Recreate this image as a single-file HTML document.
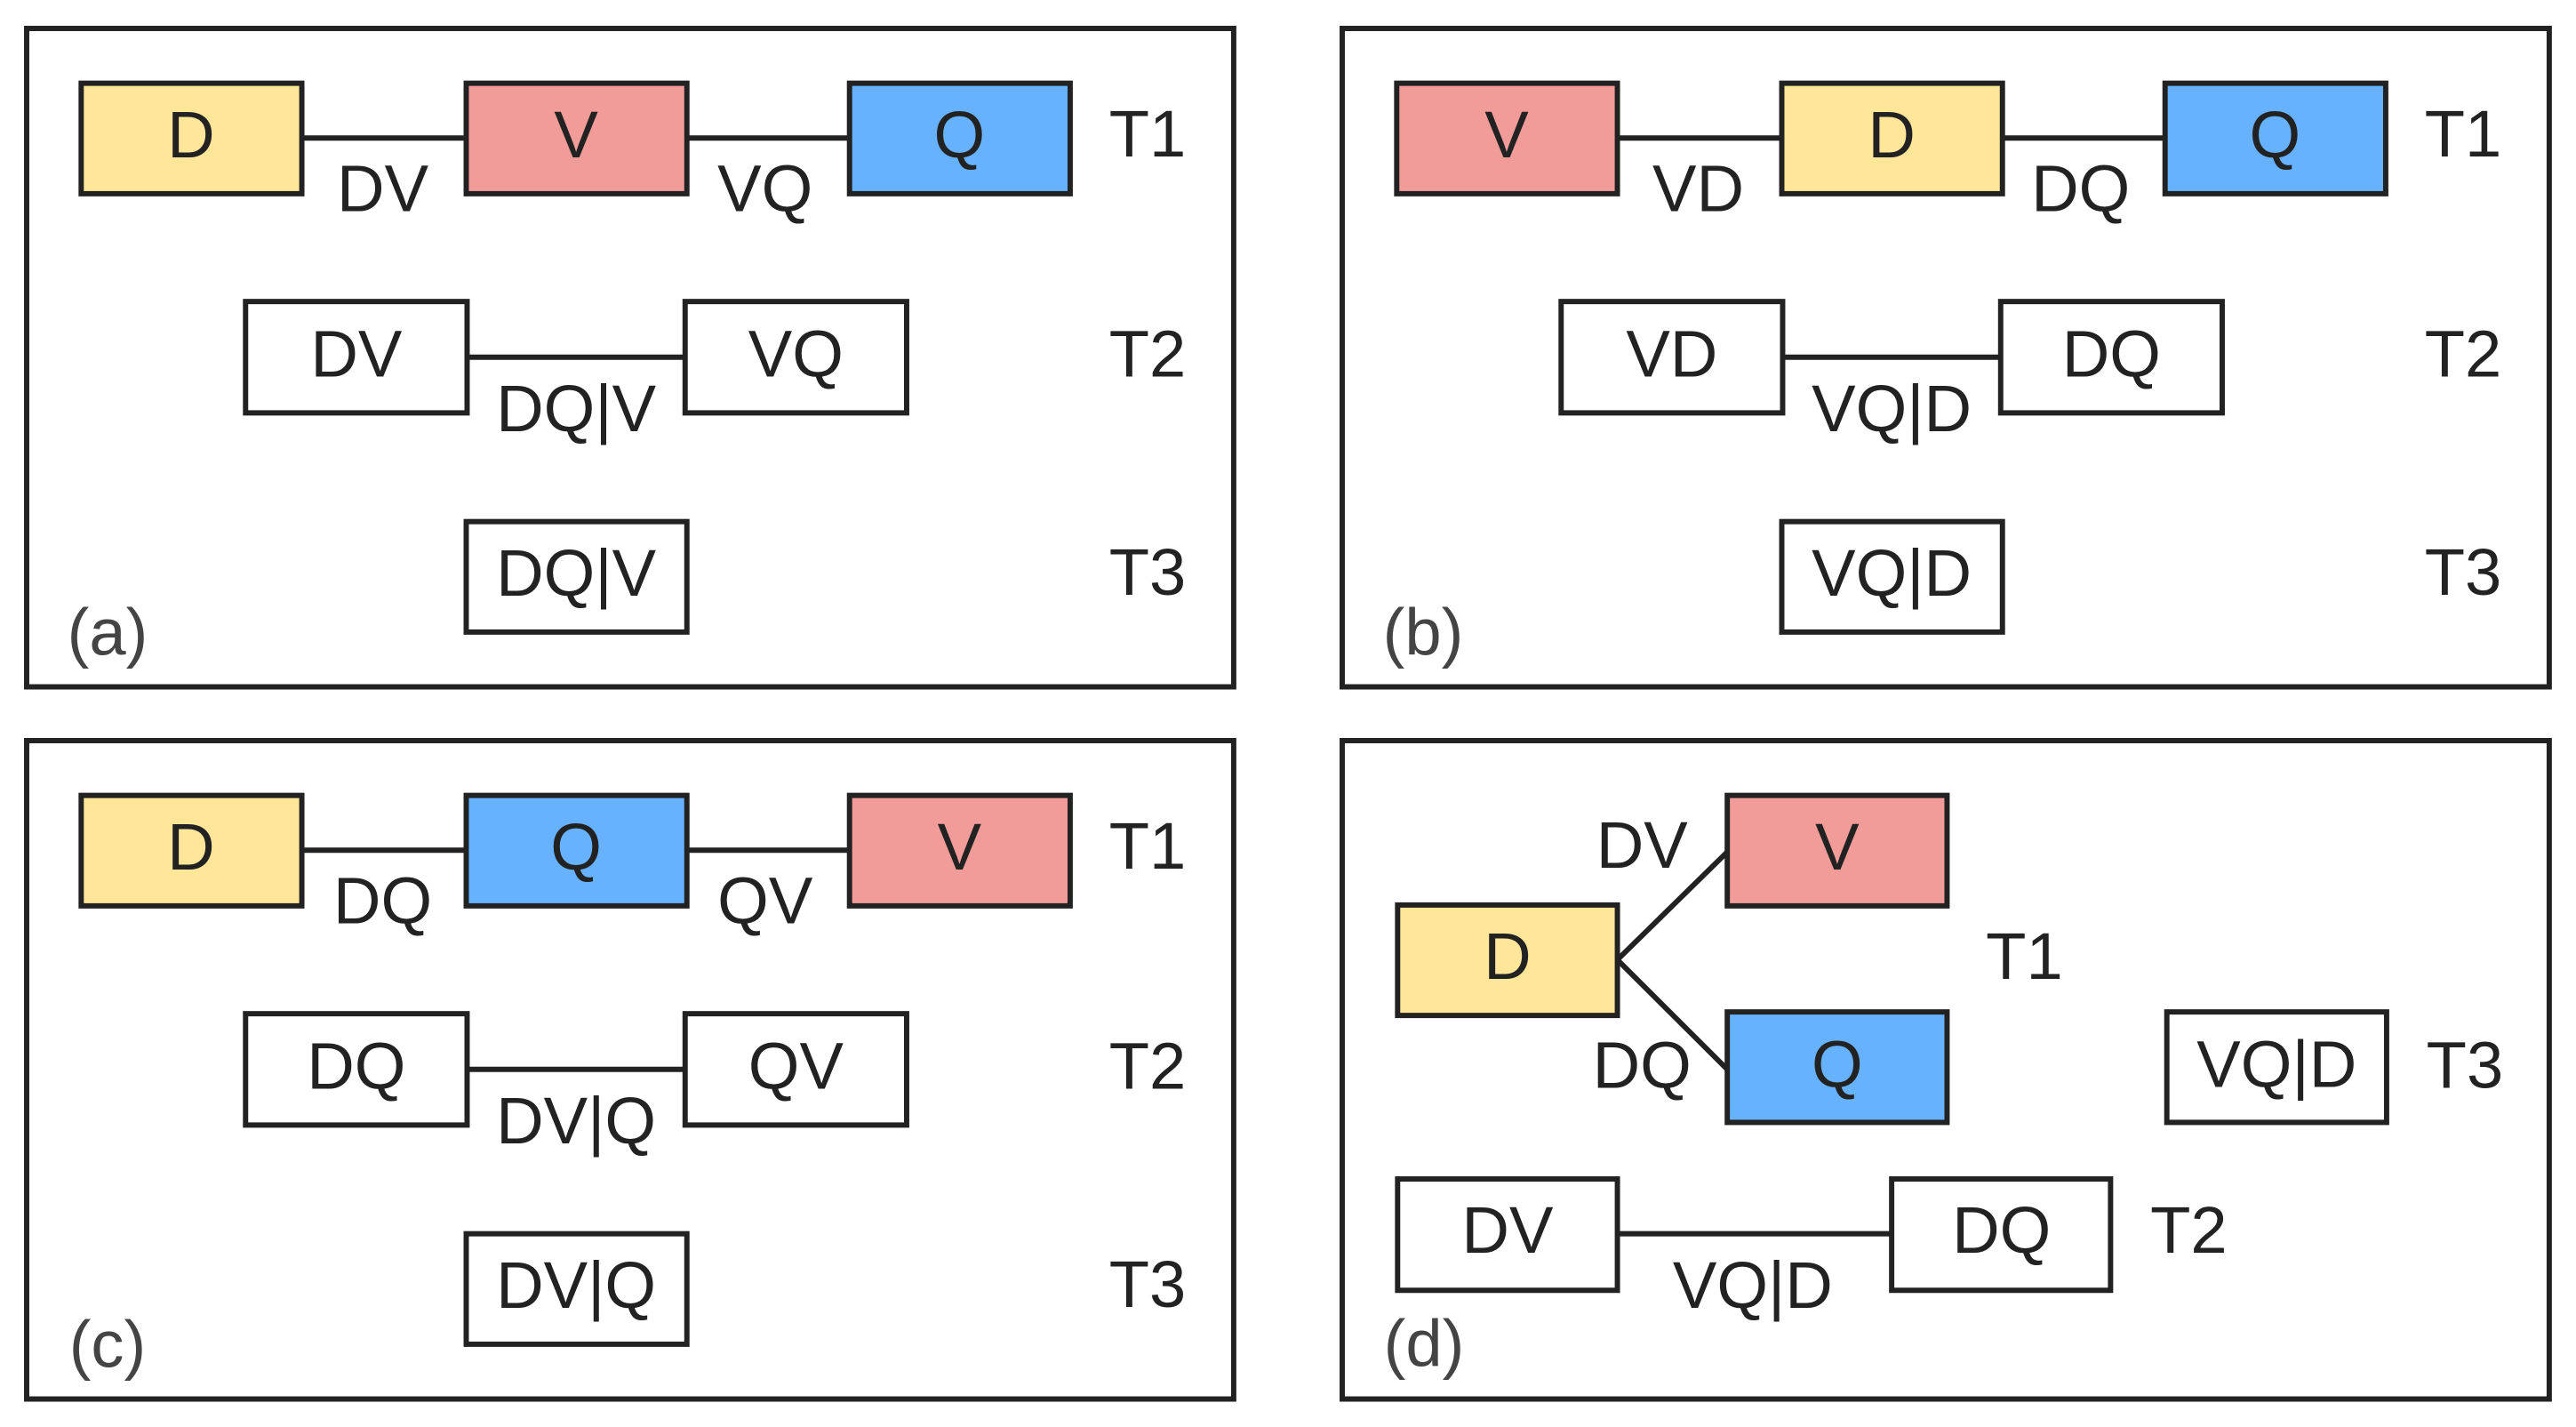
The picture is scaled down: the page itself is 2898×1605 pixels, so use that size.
<!DOCTYPE html>
<html><head><meta charset="utf-8"><style>
html,body{margin:0;padding:0;background:#fff;}
svg{display:block;}
text{font-family:"Liberation Sans",Arial,sans-serif;font-size:75px;fill:#222;text-anchor:middle;dominant-baseline:central;}
.p{fill:none;stroke:#222;stroke-width:6;}
.b{stroke:#222;stroke-width:6;}
.l{stroke:#222;stroke-width:6;fill:none;}
.lab{fill:#444;}
</style></head><body>
<svg width="2898" height="1605" viewBox="0 0 2898 1605" xmlns="http://www.w3.org/2000/svg">
<defs>
<g id="dummy"></g>
</defs>
<!-- Panel a -->
<g transform="translate(0,0)"><g transform="translate(30,32) scale(0.989,0.994) translate(-30,-32)">
<rect class="p" x="30" y="32" width="1373" height="745"/>
<line class="l" x1="343" y1="156" x2="530" y2="156"/><line class="l" x1="781" y1="156" x2="966" y2="156"/>
<rect class="b" x="92" y="94" width="251" height="125" fill="#FFE699"/><text x="217" y="152">D</text>
<rect class="b" x="530" y="94" width="251" height="125" fill="#F19C99"/><text x="655" y="152">V</text>
<rect class="b" x="966" y="94" width="251" height="125" fill="#66B2FF"/><text x="1091" y="152">Q</text>
<text x="435" y="213">DV</text><text x="870" y="213">VQ</text><text x="1305" y="151">T1</text>
<line class="l" x1="531" y1="404" x2="779" y2="404"/>
<rect class="b" x="279" y="341" width="252" height="126" fill="#fff"/><text x="405" y="400">DV</text>
<rect class="b" x="779" y="341" width="252" height="126" fill="#fff"/><text x="905" y="400">VQ</text>
<text x="655" y="462">DQ|V</text><text x="1305" y="400">T2</text>
<rect class="b" x="530" y="590" width="251" height="125" fill="#fff"/><text x="655" y="648">DQ|V</text>
<text x="1305" y="647">T3</text>
<text class="lab" x="122" y="715">(a)</text>
</g></g>
<!-- Panel b -->
<g transform="translate(1480,0)"><g transform="translate(30,32) scale(0.989,0.994) translate(-30,-32)">
<rect class="p" x="30" y="32" width="1373" height="745"/>
<line class="l" x1="343" y1="156" x2="530" y2="156"/><line class="l" x1="781" y1="156" x2="966" y2="156"/>
<rect class="b" x="92" y="94" width="251" height="125" fill="#F19C99"/><text x="217" y="152">V</text>
<rect class="b" x="530" y="94" width="251" height="125" fill="#FFE699"/><text x="655" y="152">D</text>
<rect class="b" x="966" y="94" width="251" height="125" fill="#66B2FF"/><text x="1091" y="152">Q</text>
<text x="435" y="213">VD</text><text x="870" y="213">DQ</text><text x="1305" y="151">T1</text>
<line class="l" x1="531" y1="404" x2="779" y2="404"/>
<rect class="b" x="279" y="341" width="252" height="126" fill="#fff"/><text x="405" y="400">VD</text>
<rect class="b" x="779" y="341" width="252" height="126" fill="#fff"/><text x="905" y="400">DQ</text>
<text x="655" y="462">VQ|D</text><text x="1305" y="400">T2</text>
<rect class="b" x="530" y="590" width="251" height="125" fill="#fff"/><text x="655" y="648">VQ|D</text>
<text x="1305" y="647">T3</text>
<text class="lab" x="122" y="715">(b)</text>
</g></g>
<!-- Panel c -->
<g transform="translate(0,801)"><g transform="translate(30,32) scale(0.989,0.994) translate(-30,-32)">
<rect class="p" x="30" y="32" width="1373" height="745"/>
<line class="l" x1="343" y1="156" x2="530" y2="156"/><line class="l" x1="781" y1="156" x2="966" y2="156"/>
<rect class="b" x="92" y="94" width="251" height="125" fill="#FFE699"/><text x="217" y="152">D</text>
<rect class="b" x="530" y="94" width="251" height="125" fill="#66B2FF"/><text x="655" y="152">Q</text>
<rect class="b" x="966" y="94" width="251" height="125" fill="#F19C99"/><text x="1091" y="152">V</text>
<text x="435" y="213">DQ</text><text x="870" y="213">QV</text><text x="1305" y="151">T1</text>
<line class="l" x1="531" y1="404" x2="779" y2="404"/>
<rect class="b" x="279" y="341" width="252" height="126" fill="#fff"/><text x="405" y="400">DQ</text>
<rect class="b" x="779" y="341" width="252" height="126" fill="#fff"/><text x="905" y="400">QV</text>
<text x="655" y="462">DV|Q</text><text x="1305" y="400">T2</text>
<rect class="b" x="530" y="590" width="251" height="125" fill="#fff"/><text x="655" y="648">DV|Q</text>
<text x="1305" y="647">T3</text>
<text class="lab" x="122" y="715">(c)</text>
</g></g>
<!-- Panel d -->
<g transform="translate(1480,801)"><g transform="translate(30,32) scale(0.989,0.994) translate(-30,-32)">
<rect class="p" x="30" y="32" width="1373" height="745"/>
<line class="l" x1="343" y1="280" x2="468" y2="158"/><line class="l" x1="343" y1="280" x2="468" y2="404"/>
<rect class="b" x="93" y="218" width="250" height="125" fill="#FFE699"/><text x="218" y="276">D</text>
<rect class="b" x="468" y="94" width="250" height="125" fill="#F19C99"/><text x="593" y="152">V</text>
<rect class="b" x="468" y="339" width="250" height="125" fill="#66B2FF"/><text x="593" y="398">Q</text>
<text x="371" y="150">DV</text><text x="371" y="399">DQ</text><text x="806" y="276">T1</text>
<rect class="b" x="968" y="339" width="250" height="125" fill="#fff"/><text x="1093" y="398">VQ|D</text>
<text x="1307" y="399">T3</text>
<line class="l" x1="343" y1="590" x2="655" y2="590"/>
<rect class="b" x="93" y="528" width="250" height="126" fill="#fff"/><text x="218" y="586">DV</text>
<rect class="b" x="655" y="528" width="249" height="126" fill="#fff"/><text x="780" y="586">DQ</text>
<text x="497" y="648">VQ|D</text><text x="993" y="586">T2</text>
<text class="lab" x="123" y="714">(d)</text>
</g></g>
</svg>
</body></html>
